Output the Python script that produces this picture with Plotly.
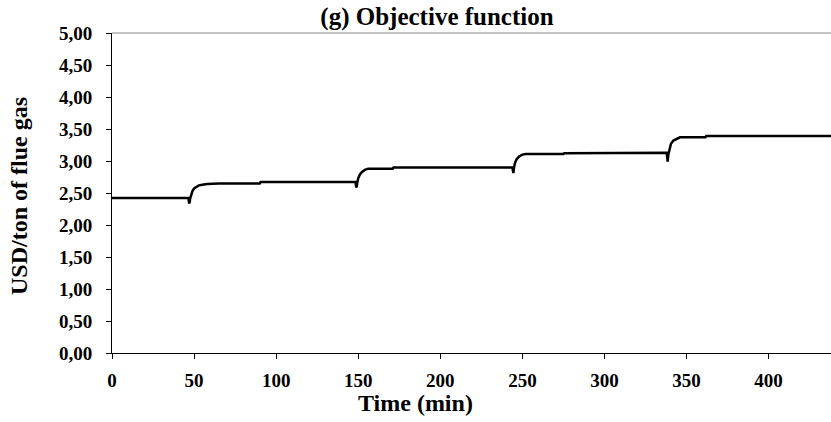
import plotly.graph_objects as go

time_min = [0, 46.6, 46.9, 47.2, 47.6, 48.2, 49.0, 50.0, 51.5, 53.0, 55.0, 58.0, 65.0, 90.0, 90.5,
            148.4, 148.7, 149.0, 149.4, 150.0, 151.0, 152.3, 154.0, 156.0, 171.0, 171.5,
            243.9, 244.2, 244.5, 244.9, 245.5, 246.5, 248.0, 250.0, 252.0, 275.0, 275.5,
            337.9, 338.2, 338.5, 338.9, 339.5, 340.5, 342.0, 344.0, 346.0, 361.5, 362.0, 440.0]
usd_per_ton = [2.42, 2.42, 2.35, 2.34, 2.41, 2.48, 2.53, 2.57, 2.60, 2.62, 2.63, 2.64, 2.65, 2.65, 2.67,
               2.67, 2.60, 2.59, 2.66, 2.73, 2.79, 2.83, 2.86, 2.88, 2.88, 2.90,
               2.90, 2.82, 2.81, 2.90, 2.97, 3.03, 3.07, 3.10, 3.11, 3.11, 3.12,
               3.13, 3.00, 2.99, 3.10, 3.19, 3.27, 3.32, 3.35, 3.37, 3.37, 3.39, 3.39]

y_ticks = [0, 0.5, 1, 1.5, 2, 2.5, 3, 3.5, 4, 4.5, 5]
y_tick_labels = ["0,00", "0,50", "1,00", "1,50", "2,00", "2,50", "3,00",
                 "3,50", "4,00", "4,50", "5,00"]
x_ticks = [0, 50, 100, 150, 200, 250, 300, 350, 400]

FONT = "Times New Roman, Liberation Serif, DejaVu Serif, serif"

fig = go.Figure()
fig.add_trace(go.Scatter(x=time_min, y=usd_per_ton, mode="lines",
                         line=dict(color="black", width=2.5),
                         showlegend=False, hoverinfo="skip"))

fig.update_layout(
    width=831, height=422,
    margin=dict(l=112, r=0, t=33, b=69),
    paper_bgcolor="white", plot_bgcolor="white",
    font=dict(family=FONT, color="black"),
    title=dict(text="<b>(g) Objective function</b>", x=437/831, xanchor="center",
               xref="container", y=1 - 16/422, yanchor="middle", yref="container",
               font=dict(family=FONT, size=25, color="black")),
    xaxis=dict(range=[0, 438], tickvals=x_ticks, ticktext=[f"<b>{v}</b>" for v in x_ticks],
               showgrid=False, zeroline=False, showline=True, linecolor="black", linewidth=1,
               ticks="outside", ticklen=5, tickcolor="black", ticklabelstandoff=5,
               tickfont=dict(family=FONT, size=19, color="black")),
    yaxis=dict(range=[0, 5], tickvals=y_ticks, ticktext=[f"<b>{t}</b>" for t in y_tick_labels],
               showgrid=False, zeroline=False, showline=True, linecolor="black", linewidth=1,
               ticks="outside", ticklen=5, tickcolor="black", ticklabelstandoff=10,
               tickfont=dict(family=FONT, size=19, color="black")),
    shapes=[dict(type="line", xref="paper", yref="paper", x0=0, x1=1, y0=1, y1=1,
                 line=dict(color="#8a8a8a", width=1))],
    annotations=[
        dict(text="<b>Time (min)</b>", xref="paper", yref="paper",
             x=(415 - 112) / 719, y=-(403 - 353) / 320, xanchor="center", yanchor="middle",
             showarrow=False, font=dict(family=FONT, size=24, color="black")),
        dict(text="<b>USD/ton of flue gas</b>", xref="paper", yref="paper",
             x=-(112 - 19) / 719, y=(353 - 196) / 320, xanchor="center", yanchor="middle",
             textangle=-90, showarrow=False, font=dict(family=FONT, size=24, color="black")),
    ],
)

fig.write_html("out.html")
